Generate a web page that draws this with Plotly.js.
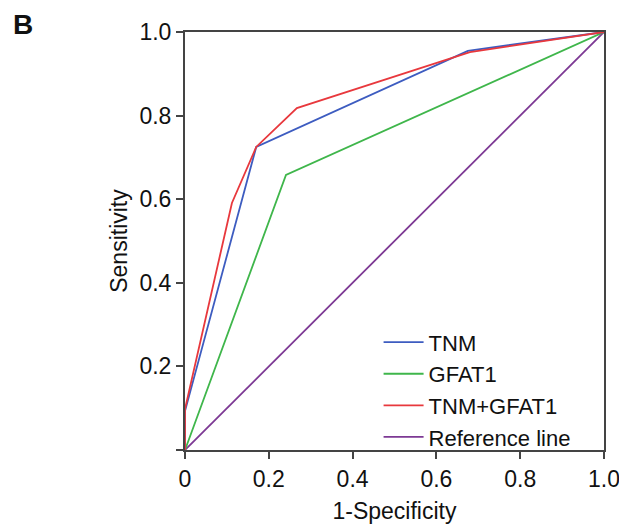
<!DOCTYPE html>
<html>
<head>
<meta charset="utf-8">
<script src="https://cdn.plot.ly/plotly-3.0.1.min.js"></script>
<style>html,body{margin:0;padding:0;background:#fff;}#chart{width:619px;height:527px;}</style>
</head>
<body>
<div id="chart"></div>
<script>
// ROC curve data (1-Specificity, Sensitivity)
const seriesNames = ["TNM", "GFAT1", "TNM+GFAT1", "Reference line"];
const tnmX = [0, 0, 0.170, 0.675, 1];
const tnmY = [0, 0.093, 0.725, 0.955, 1];
const gfatX = [0, 0.241, 1];
const gfatY = [0, 0.658, 1];
const comboX = [0, 0, 0.112, 0.170, 0.267, 0.680, 1];
const comboY = [0, 0.098, 0.591, 0.725, 0.818, 0.952, 1];
const refX = [0, 1];
const refY = [0, 1];
const xTicks = [0, 0.2, 0.4, 0.6, 0.8, 1.0];
const xTickText = ["0", "0.2", "0.4", "0.6", "0.8", "1.0"];
const yTicks = [0, 0.2, 0.4, 0.6, 0.8, 1.0];
const yTickText = ["", "0.2", "0.4", "0.6", "0.8", "1.0"];

const colors = ["#3d5cc0", "#3fb64b", "#e8383d", "#7d3994"];
const xs = [tnmX, gfatX, comboX, refX];
const ys = [tnmY, gfatY, comboY, refY];
const order = [3, 1, 0, 2];
const traces = order.map(i => ({
  x: xs[i], y: ys[i], name: seriesNames[i], type: "scatter", mode: "lines",
  line: {color: colors[i], width: 1.8}, legendrank: i + 1
}));

const font = {family: "Liberation Sans, Arial, sans-serif", size: 23, color: "#111"};
const layout = {
  width: 619, height: 527,
  margin: {l: 185, r: 15, t: 32, b: 77},
  paper_bgcolor: "#fff", plot_bgcolor: "#fff",
  font: font,
  showlegend: true,
  legend: {x: 0.462, y: -0.02, xanchor: "left", yanchor: "bottom", bgcolor: "rgba(0,0,0,0)",
           font: {family: font.family, size: 22, color: "#111"}, tracegroupgap: 0, itemwidth: 40,
           traceorder: "normal"},
  xaxis: {range: [0, 1], tickvals: xTicks, ticktext: xTickText, showgrid: false, zeroline: false,
          showline: true, linecolor: "#444", linewidth: 2, mirror: true, ticks: "outside", ticklen: 7,
          tickwidth: 2, tickcolor: "#444", tickfont: font, automargin: false, ticklabeloverflow: "allow",
          title: {text: "1-Specificity", font: font, standoff: 12}},
  yaxis: {range: [0, 1], tickvals: yTicks, ticktext: yTickText, showgrid: false, zeroline: false,
          showline: true, linecolor: "#444", linewidth: 2, mirror: true, ticks: "outside", ticklen: 7,
          tickwidth: 2, tickcolor: "#444", tickfont: font, automargin: false, ticklabeloverflow: "allow",
          title: {text: "Sensitivity", font: font, standoff: 5}},
  annotations: [{text: "<b>B</b>", xref: "paper", yref: "paper", x: -0.415, y: 1.06,
                 xanchor: "left", yanchor: "top", showarrow: false,
                 font: {family: font.family, size: 28, color: "#111"}}]
};
Plotly.newPlot("chart", traces, layout, {displayModeBar: false, staticPlot: true});
</script>
</body>
</html>
